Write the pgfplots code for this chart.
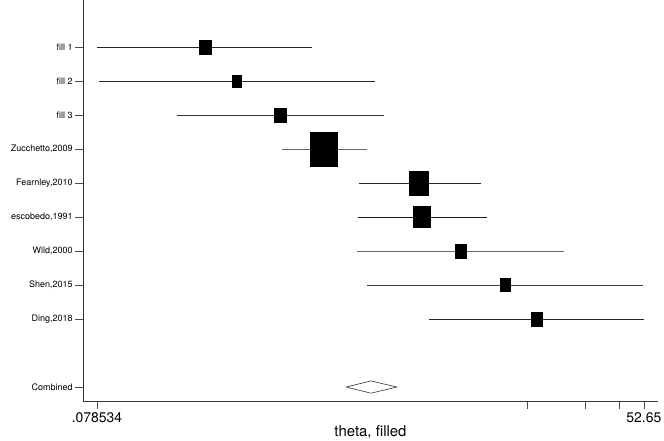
\documentclass[border=0pt]{standalone}
\usepackage{fontspec}
\setmainfont{TeX Gyre Heros}
\usepackage{pgfplots}
\pgfplotsset{compat=1.18}
\begin{document}
\begin{tikzpicture}
\path[use as bounding box] (0,0) rectangle (664bp,441bp);
\begin{axis}[
  at={(83bp,40bp)}, anchor=south west,
  scale only axis, width=575bp, height=401bp,
  xmode=log, xmin=0.06649, xmax=62.25,
  y dir=reverse, ymin=-0.38, ymax=11.41,
  axis lines=left, axis line style={-, line width=0.9pt, black!80},
  ytick={1,2,3,4,5,6,7,8,9,11},
  yticklabels={fill 1,fill 2,fill 3,{Zucchetto,2009},{Fearnley,2010},{escobedo,1991},{Wild,2000},{Shen,2015},{Ding,2018},Combined},
  xtick={0.078534,13.1625,26.325,39.4875,52.65},
  xticklabels={{.078534},{},{},{},{52.65}},
  minor xtick={}, minor ytick={},
  tick align=outside, major tick length=8bp,
  tick style={black!70, line width=0.6pt},
  yticklabel style={font=\fontsize{9}{10}\selectfont, xshift=1bp},
  xticklabel style={font=\fontsize{14}{16}\selectfont},
  xlabel={theta, filled},
  xlabel style={font=\fontsize{15}{17}\selectfont, yshift=4bp},
  clip=false,
]
% confidence intervals
\addplot[black!85, line width=0.7pt] coordinates {(0.078534,1) (1.014,1)};
\addplot[black!85, line width=0.7pt] coordinates {(0.0804,2) (2.146,2)};
\addplot[black!80, line width=0.7pt] coordinates {(0.2034,3) (2.388,3)};
\addplot[black!60, line width=0.7pt] coordinates {(0.709,4) (1.951,4)};
\addplot[black!85, line width=0.7pt] coordinates {(1.773,5) (7.57,5)};
\addplot[black!90, line width=0.7pt] coordinates {(1.752,6) (8.13,6)};
\addplot[black!60, line width=0.7pt] coordinates {(1.732,7) (20.33,7)};
\addplot[black!75, line width=0.7pt] coordinates {(1.951,8) (52.04,8)};
\addplot[black!85, line width=0.7pt] coordinates {(4.077,9) (52.65,9)};
% point estimates (squares sized by weight)
\addplot[only marks, mark=square*, black, mark size=6bp, mark options={yscale=1.17}] coordinates {(0.2838,1)};
\addplot[only marks, mark=square*, black, mark size=4.5bp, mark options={yscale=1.3}] coordinates {(0.4155,2)};
\addplot[only marks, mark=square*, black, mark size=6bp, mark options={yscale=1.17}] coordinates {(0.693,3)};
\addplot[only marks, mark=square*, black, mark size=13.5bp, mark options={yscale=1.26}] coordinates {(1.169,4)};
\addplot[only marks, mark=square*, black, mark size=9.5bp, mark options={yscale=1.26}] coordinates {(3.62,5)};
\addplot[only marks, mark=square*, black, mark size=8.5bp, mark options={yscale=1.24}] coordinates {(3.754,6)};
\addplot[only marks, mark=square*, black, mark size=5.5bp, mark options={yscale=1.3}] coordinates {(5.97,7)};
\addplot[only marks, mark=square*, black, mark size=5bp, mark options={yscale=1.3}] coordinates {(10.07,8)};
\addplot[only marks, mark=square*, black, mark size=5.5bp, mark options={yscale=1.27}] coordinates {(14.74,9)};
% combined diamond
\addplot[black!80, line width=0.6pt] coordinates {(1.520,11) (2.046,10.82) (2.787,11) (2.046,11.18) (1.520,11)};
\end{axis}
\end{tikzpicture}
\end{document}
